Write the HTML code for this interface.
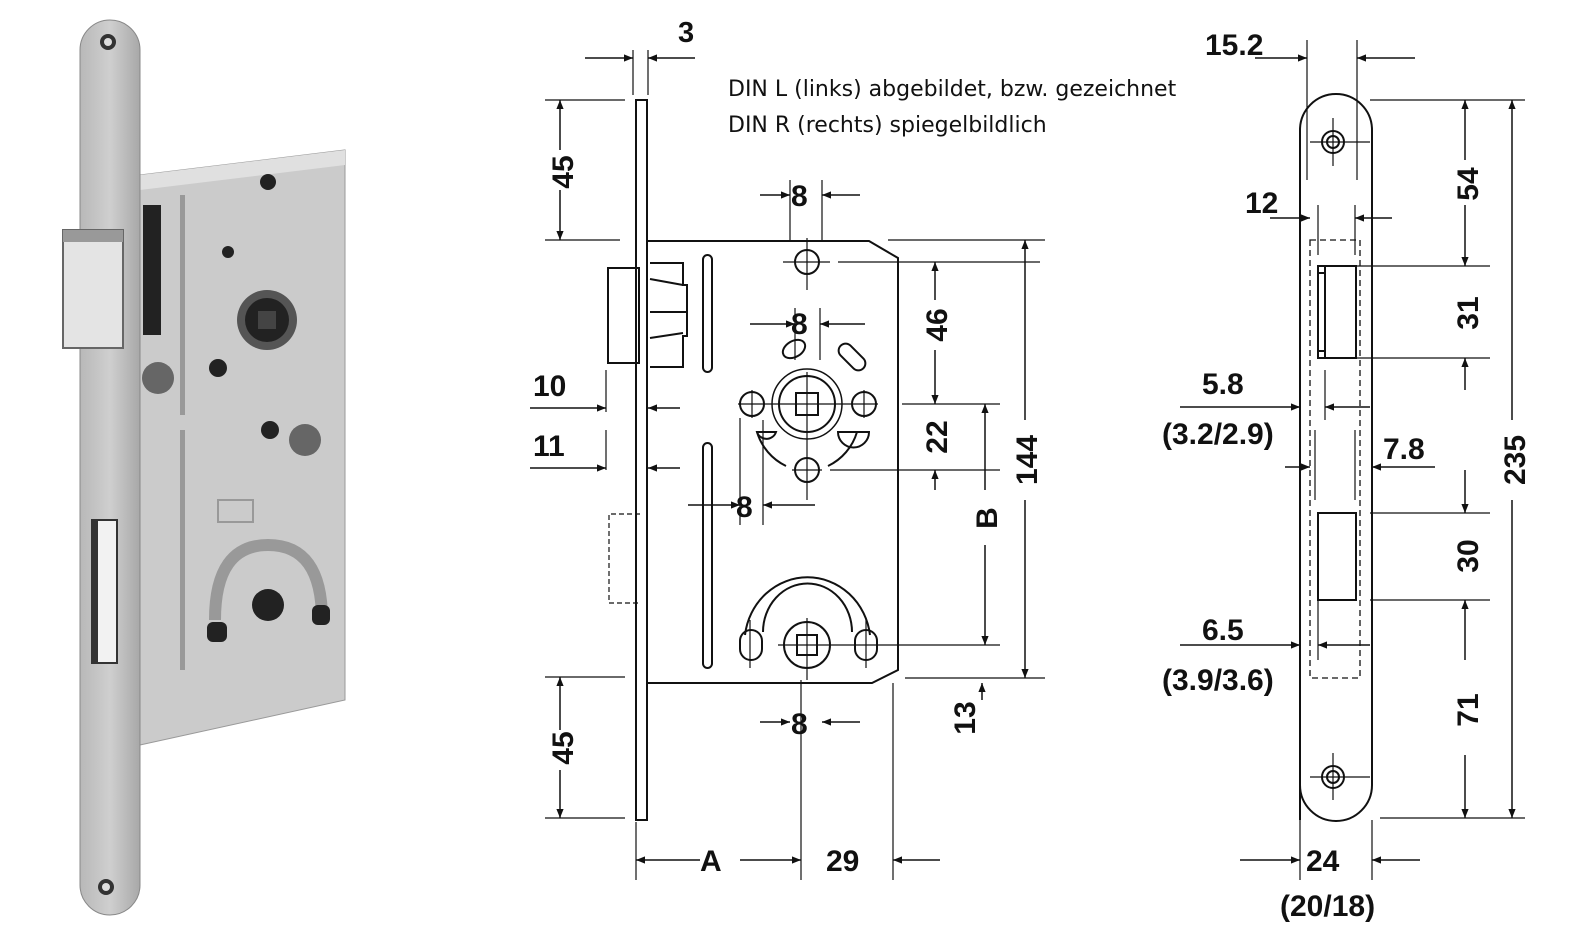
<!DOCTYPE html>
<html><head><meta charset="utf-8"><style>
html,body{margin:0;padding:0;background:#fff;width:1580px;height:947px;overflow:hidden}
svg{display:block}
text{font-family:"Liberation Sans",sans-serif;font-weight:bold;fill:#111}
.t{font-family:"DejaVu Sans","Liberation Sans",sans-serif;font-weight:normal;font-size:22px}
</style></head><body>
<svg width="1580" height="947" viewBox="0 0 1580 947" xmlns="http://www.w3.org/2000/svg">
<defs>
<marker id="a" viewBox="0 0 10 10" refX="10" refY="5" markerWidth="18" markerHeight="9" orient="auto-start-reverse" markerUnits="userSpaceOnUse"><path d="M0,1 L10,5 L0,9z" fill="#111"/></marker>
<linearGradient id="g1" x1="0" x2="1"><stop offset="0" stop-color="#b8b8b8"/><stop offset="0.5" stop-color="#cfcfcf"/><stop offset="1" stop-color="#a8a8a8"/></linearGradient>
</defs>
<!-- PHOTO -->
<g>
<polygon points="140,175 345,150 345,700 140,745" fill="#cbcbcb" stroke="#999"/>
<polygon points="140,175 345,150 345,165 140,190" fill="#e0e0e0"/>
<rect x="180" y="195" width="5" height="220" fill="#999"/><rect x="180" y="430" width="5" height="240" fill="#999"/>
<rect x="143" y="205" width="18" height="130" fill="#222"/>
<circle cx="267" cy="320" r="30" fill="#555"/><circle cx="267" cy="320" r="22" fill="#222"/><rect x="258" y="311" width="18" height="18" fill="#444"/>
<circle cx="158" cy="378" r="16" fill="#666"/><circle cx="305" cy="440" r="16" fill="#666"/>
<circle cx="218" cy="368" r="9" fill="#222"/><circle cx="228" cy="252" r="6" fill="#222"/><circle cx="270" cy="430" r="9" fill="#222"/>
<circle cx="268" cy="182" r="8" fill="#222"/>
<path d="M215,620 Q215,545 268,545 Q322,545 322,620" fill="none" stroke="#999" stroke-width="12"/>
<circle cx="268" cy="605" r="16" fill="#222"/>
<rect x="207" y="622" width="20" height="20" rx="6" fill="#222"/><rect x="312" y="605" width="18" height="20" rx="6" fill="#222"/>
<rect x="218" y="500" width="35" height="22" fill="none" stroke="#999" stroke-width="2"/>
<rect x="80" y="20" width="60" height="895" rx="30" fill="url(#g1)" stroke="#888"/>
<circle cx="108" cy="42" r="8" fill="#333"/><circle cx="108" cy="42" r="4" fill="#ddd"/>
<circle cx="106" cy="887" r="8" fill="#333"/><circle cx="106" cy="887" r="4" fill="#ddd"/>
<rect x="63" y="230" width="60" height="118" fill="#e4e4e4" stroke="#666" stroke-width="2"/>
<rect x="63" y="230" width="60" height="12" fill="#999"/>
<rect x="92" y="520" width="25" height="143" fill="#f2f2f2" stroke="#333" stroke-width="2"/>
<rect x="92" y="520" width="6" height="143" fill="#333"/>
</g>
<!-- MIDDLE DRAWING -->
<g fill="none" stroke="#111" stroke-width="2">
<rect x="636" y="100" width="11" height="720"/>
<path d="M647,241 H869 L898,258 V670 L872,683 H647"/>
<rect x="608" y="268" width="31" height="95"/>
<path d="M650,263 H683 V285 H687 V336 H683 V367 H650"/>
<path d="M650,279 L683,285 M650,338 L683,333 M650,312 H687"/>
<rect x="703" y="255" width="9" height="117" rx="4.5"/>
<rect x="703" y="443" width="9" height="225" rx="4.5"/>
<circle cx="807" cy="262" r="12"/>
<circle cx="807" cy="404" r="35" stroke-width="1.5"/><circle cx="807" cy="404" r="28"/>
<rect x="796" y="393" width="22" height="22"/>
<circle cx="752" cy="404" r="12"/><circle cx="864" cy="404" r="12"/><circle cx="807" cy="470" r="12"/>
<path d="M757,432 A55,55 0 0 0 786,466 M828,466 A55,55 0 0 0 857,432"/>
<path d="M757,432 H776 A10,10 0 0 1 757,432 Z" />
<path d="M838,432 H869 A15,15 0 0 1 838,432Z"/>
<ellipse cx="794" cy="349" rx="12" ry="8" transform="rotate(-30 794 349)"/>
<rect x="836" y="350" width="32" height="14" rx="7" transform="rotate(45 852 357)"/>
<circle cx="807" cy="645" r="23"/><rect x="797" y="635" width="20" height="20"/>
<path d="M745,635 A63,66 0 0 1 870,635 M763,632 A44,48 0 0 1 852,632"/>
<rect x="740" y="630" width="22" height="30" rx="11"/><rect x="855" y="630" width="22" height="30" rx="11"/>
<path d="M640,514 H609 V603 H640" stroke-dasharray="5,3" stroke-width="1.2"/>
</g>
<g stroke="#111" stroke-width="1.2" fill="none">
<path d="M807,238 V290 M783,262 H830 M838,262 H1040"/>
<path d="M807,372 V500 M738,404 H878 M752,390 V418 M864,390 V418 M792,470 H822 M830,470 H1000 M902,404 H1000"/>
<path d="M807,618 V680 M778,645 H900 M750,620 V668 M866,620 V668 M886,645 H1000"/>
<path d="M633,50 V95 M648,50 V95 M545,240 H620 M545,100 H625 M545,677 H625 M545,818 H625"/>
<path d="M606,370 V412 M606,430 V470 M790,180 V240 M822,180 V240 M795,308 V360 M820,308 V360 M740,418 V525 M763,420 V525"/>
<path d="M888,240 H1045 M905,678 H1045 M893,683 V880 M636,822 V880 M801,680 V880"/>
</g>
<g stroke="#111" stroke-width="1.5" fill="none">
<path d="M585,58 H633" marker-end="url(#a)"/><path d="M695,58 H648" marker-end="url(#a)"/>
<path d="M560,150 V100" marker-end="url(#a)"/><path d="M560,190 V240" marker-end="url(#a)"/>
<path d="M560,730 V677" marker-end="url(#a)"/><path d="M560,770 V818" marker-end="url(#a)"/>
<path d="M530,408 H606" marker-end="url(#a)"/><path d="M680,408 H648" marker-end="url(#a)"/>
<path d="M530,468 H606" marker-end="url(#a)"/><path d="M680,468 H648" marker-end="url(#a)"/>
<path d="M760,195 H790" marker-end="url(#a)"/><path d="M860,195 H822" marker-end="url(#a)"/>
<path d="M750,324 H795" marker-end="url(#a)"/><path d="M865,324 H820" marker-end="url(#a)"/>
<path d="M688,505 H740" marker-end="url(#a)"/><path d="M815,505 H763" marker-end="url(#a)"/>
<path d="M760,722 H790" marker-end="url(#a)"/><path d="M860,722 H822" marker-end="url(#a)"/>
<path d="M935,300 V262" marker-end="url(#a)"/><path d="M935,350 V404" marker-end="url(#a)"/>
<path d="M935,490 V470" marker-end="url(#a)"/>
<path d="M985,490 V404" marker-end="url(#a)"/><path d="M985,545 V645" marker-end="url(#a)"/>
<path d="M1025,420 V240" marker-end="url(#a)"/><path d="M1025,500 V678" marker-end="url(#a)"/>
<path d="M982,700 V683" marker-end="url(#a)"/>
<path d="M700,860 H636" marker-end="url(#a)"/><path d="M740,860 H801" marker-end="url(#a)"/>
<path d="M940,860 H893" marker-end="url(#a)"/>
</g>
<text x="678" y="42" font-size="29">3</text>
<text class="t" x="728" y="96">DIN L (links) abgebildet, bzw. gezeichnet</text>
<text class="t" x="728" y="132">DIN R (rechts) spiegelbildlich</text>
<g font-size="30">
<text x="791" y="206">8</text><text x="791" y="334">8</text><text x="736" y="517">8</text><text x="791" y="734">8</text>
<text x="533" y="396">10</text><text x="533" y="456">11</text>
<text x="700" y="871">A</text><text x="826" y="871">29</text>
<text transform="translate(573,172) rotate(-90)" text-anchor="middle">45</text>
<text transform="translate(573,748) rotate(-90)" text-anchor="middle">45</text>
<text transform="translate(947,325) rotate(-90)" text-anchor="middle">46</text>
<text transform="translate(947,437) rotate(-90)" text-anchor="middle">22</text>
<text transform="translate(997,518) rotate(-90)" text-anchor="middle">B</text>
<text transform="translate(1037,460) rotate(-90)" text-anchor="middle">144</text>
<text transform="translate(975,718) rotate(-90)" text-anchor="middle">13</text>
</g>
<!-- RIGHT FACEPLATE -->
<g fill="none" stroke="#111" stroke-width="2">
<path d="M1300,820 V130 A36,36 0 0 1 1372,130 V785 A36,36 0 0 1 1300,785"/>
<rect x="1310" y="240" width="50" height="438" stroke-dasharray="6,4" stroke-width="1.3"/>
<path d="M1318,266 H1356 V358 H1318 Z M1325,266 V358 M1318,273 H1325 M1318,351 H1325"/>
<rect x="1318" y="513" width="38" height="87"/>
<circle cx="1333" cy="142" r="11"/><circle cx="1333" cy="142" r="6"/>
<circle cx="1333" cy="777" r="11"/><circle cx="1333" cy="777" r="6"/>
</g>
<g stroke="#111" stroke-width="1.2" fill="none">
<path d="M1307,40 V180 M1357,40 V180 M1333,118 V166 M1310,142 H1370 M1333,753 V800 M1310,777 H1370"/>
<path d="M1370,100 H1525 M1345,266 H1490 M1345,358 H1490 M1370,513 H1490 M1370,600 H1490 M1380,818 H1525"/>
<path d="M1318,205 V255 M1355,205 V255 M1325,370 V420 M1315,430 V500 M1355,430 V500 M1300,820 V880 M1372,820 V880 M1318,600 V660"/>
</g>
<g stroke="#111" stroke-width="1.5" fill="none">
<path d="M1255,58 H1307" marker-end="url(#a)"/><path d="M1415,58 H1357" marker-end="url(#a)"/>
<path d="M1270,218 H1310" marker-end="url(#a)"/><path d="M1392,218 H1355" marker-end="url(#a)"/>
<path d="M1180,407 H1300" marker-end="url(#a)"/><path d="M1370,407 H1325" marker-end="url(#a)"/>
<path d="M1285,467 H1310" marker-end="url(#a)"/><path d="M1435,467 H1372" marker-end="url(#a)"/>
<path d="M1180,645 H1300" marker-end="url(#a)"/><path d="M1370,645 H1318" marker-end="url(#a)"/>
<path d="M1240,860 H1300" marker-end="url(#a)"/><path d="M1420,860 H1372" marker-end="url(#a)"/>
<path d="M1465,160 V100" marker-end="url(#a)"/><path d="M1465,205 V266" marker-end="url(#a)"/>
<path d="M1465,390 V358" marker-end="url(#a)"/><path d="M1465,470 V513" marker-end="url(#a)"/>
<path d="M1465,660 V600" marker-end="url(#a)"/><path d="M1465,755 V818" marker-end="url(#a)"/>
<path d="M1512,420 V100" marker-end="url(#a)"/><path d="M1512,500 V818" marker-end="url(#a)"/>
</g>
<g font-size="30">
<text x="1205" y="55">15.2</text><text x="1245" y="213">12</text>
<text x="1202" y="394">5.8</text><text x="1162" y="444">(3.2/2.9)</text>
<text x="1383" y="459">7.8</text>
<text x="1202" y="640">6.5</text><text x="1162" y="690">(3.9/3.6)</text>
<text x="1306" y="871">24</text><text x="1280" y="916">(20/18)</text>
<text transform="translate(1478,184) rotate(-90)" text-anchor="middle">54</text>
<text transform="translate(1478,313) rotate(-90)" text-anchor="middle">31</text>
<text transform="translate(1478,556) rotate(-90)" text-anchor="middle">30</text>
<text transform="translate(1478,710) rotate(-90)" text-anchor="middle">71</text>
<text transform="translate(1525,460) rotate(-90)" text-anchor="middle">235</text>
</g>
</svg>
</body></html>
